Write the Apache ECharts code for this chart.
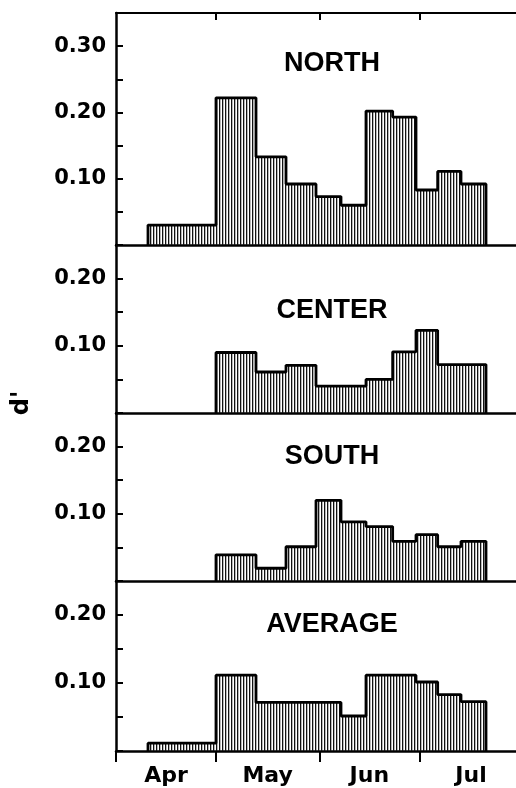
<!DOCTYPE html>
<html>
<head>
<meta charset="utf-8">
<script src="https://cdn.jsdelivr.net/npm/echarts@6/dist/echarts.min.js"></script>
<style>
html,body{margin:0;padding:0;background:#fff;}
#chart{width:516px;height:788px;}
</style>
</head>
<body>
<div id="chart"></div>
<script>
// ---- data (x in days after 1 April) ----
const monthNames = ['Apr', 'May', 'Jun', 'Jul'];
const monthStarts = [0, 30, 61, 91, 122];
const binEdges = [9.6, 30, 42, 51, 60, 67.5, 75, 83, 90, 96.5, 103.5, 111];
const panelNames = ['NORTH', 'CENTER', 'SOUTH', 'AVERAGE'];
const northValues   = [0.030, 0.222, 0.133, 0.092, 0.073, 0.060, 0.202, 0.193, 0.083, 0.111, 0.092];
const centerValues  = [null, 0.090, 0.061, 0.071, 0.040, 0.040, 0.050, 0.091, 0.123, 0.072, 0.072];
const southValues   = [null, 0.039, 0.019, 0.051, 0.120, 0.088, 0.081, 0.059, 0.069, 0.051, 0.059];
const averageValues = [0.0115, 0.1115, 0.0715, 0.0715, 0.0715, 0.0515, 0.1115, 0.1115, 0.1015, 0.083, 0.0725];
const panelMax = [0.35, 0.25, 0.25, 0.25];
const yAxisName = "d'";

// ---- build ----
const panelValues = [northValues, centerValues, southValues, averageValues];
const monthCenters = monthNames.map((m, i) => (monthStarts[i] + monthStarts[i + 1]) / 2);

function stepData(vals) {
  const pts = [];
  let i0 = vals.findIndex(v => v !== null);
  const n = vals.length;
  pts.push([binEdges[i0], 0]);
  for (let i = i0; i < n; i++) pts.push([binEdges[i], vals[i]]);
  pts.push([binEdges[n], vals[n - 1]]);
  pts.push([binEdges[n], 0]);
  return pts;
}

const pat = document.createElement('canvas');
pat.width = 3; pat.height = 8;
(function () {
  const c = pat.getContext('2d');
  c.fillStyle = '#111';
  c.fillRect(0, 0, 1.3, 8);
})();

const layout = [ [13, 245], [245, 413], [413, 581], [581, 751] ]; // [top, baseline]
const tickFont = { fontFamily: 'DejaVu Sans', fontWeight: 'bold', fontSize: 21, color: '#000' };

const grids = [], xAxes = [], yAxes = [], series = [], graphics = [];
layout.forEach((g, i) => {
  grids.push({ left: 116, right: 0, top: g[0], height: g[1] - g[0], containLabel: false });
  const isBottom = i === layout.length - 1;
  xAxes.push({
    type: 'value', gridIndex: i, min: 0, max: 120, position: 'bottom',
    axisLine: { show: true, onZero: false, lineStyle: { color: '#000', width: 2.5 } },
    axisTick: isBottom
      ? { show: true, customValues: monthStarts.slice(0, 4), length: 11, inside: false, lineStyle: { color: '#000', width: 2 } }
      : { show: false },
    axisLabel: isBottom
      ? Object.assign({ show: true, customValues: monthCenters, margin: 14,
          formatter: v => { const k = monthCenters.findIndex(c => Math.abs(c - v) < 0.01); return k >= 0 ? monthNames[k] : ''; } }, tickFont, { fontSize: 22 })
      : { show: false },
    splitLine: { show: false }
  });
  yAxes.push({
    type: 'value', gridIndex: i, min: 0, max: panelMax[i], interval: 0.05,
    axisLine: { show: true, lineStyle: { color: '#000', width: 2.5 } },
    axisTick: { show: true, inside: true, length: 7, lineStyle: { color: '#000', width: 2 } },
    axisLabel: Object.assign({ margin: 10, formatter: v => { const r = Math.round(v * 100); return (r > 0 && r % 10 === 0) ? (r / 100).toFixed(2) : ''; } }, tickFont),
    splitLine: { show: false }
  });
  series.push({
    type: 'line', xAxisIndex: i, yAxisIndex: i, step: 'end', symbol: 'none',
    data: stepData(panelValues[i]),
    lineStyle: { color: '#000', width: 2.8 },
    areaStyle: { color: { image: pat, repeat: 'repeat' }, opacity: 1 },
    z: 3
  });
});
// top border of first panel with month ticks
xAxes.push({
  type: 'value', gridIndex: 0, min: 0, max: 120, position: 'top',
  axisLine: { show: true, onZero: false, lineStyle: { color: '#000', width: 2.2 } },
  axisTick: { show: true, inside: true, customValues: monthStarts.slice(1, 4), length: 7, lineStyle: { color: '#000', width: 2 } },
  axisLabel: { show: false }, splitLine: { show: false }
});

const titleY = [64, 311, 457, 625];
panelNames.forEach((name, i) => {
  graphics.push({
    type: 'text', x: 332, y: titleY[i],
    style: { text: name, fill: '#000', font: 'bold 27px "Liberation Sans"', textAlign: 'center', textVerticalAlign: 'middle' }
  });
});
graphics.push({
  type: 'text', x: 22, y: 403, rotation: Math.PI / 2,
  style: { text: yAxisName, fill: '#000', font: 'bold 24px "DejaVu Sans"', textAlign: 'center', textVerticalAlign: 'middle' }
});

const chart = echarts.init(document.getElementById('chart'), null, { renderer: 'canvas' });
chart.setOption({
  animation: false,
  backgroundColor: '#fff',
  grid: grids, xAxis: xAxes, yAxis: yAxes, series: series, graphic: graphics
});
</script>
</body>
</html>
